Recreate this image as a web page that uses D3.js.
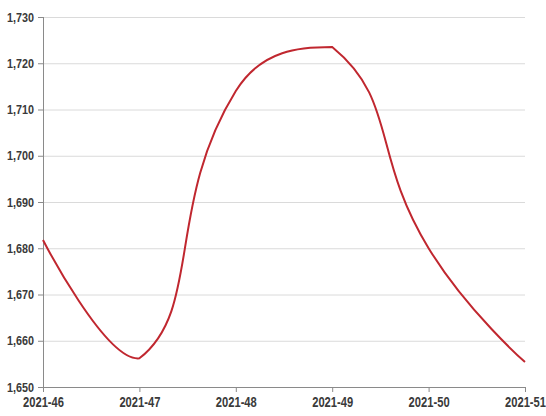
<!DOCTYPE html>
<html><head><meta charset="utf-8">
<script src="https://cdn.jsdelivr.net/npm/d3@7"></script>
<style>
body{margin:0;background:#fff}
svg{display:block}
.lbl text{font-family:"Liberation Sans",Arial,sans-serif;fill:#3a3a3a;font-weight:bold}
</style>
</head><body>
<svg id="c" width="546" height="416"></svg>
<script>
// ---- data ----
const categories = ["2021-46","2021-47","2021-48","2021-49","2021-50","2021-51"];
const values = [1681.8, 1656.2, 1714.0, 1723.5, 1680.0, 1655.4];
const yTicks = [1650,1660,1670,1680,1690,1700,1710,1720,1730];
const yDomain = [1650, 1730];

// ---- layout ----
const plotL = 43, plotR = 525, plotT = 17, plotB = 387;
const svg = d3.select("#c");
const x = d3.scalePoint().domain(categories).range([plotL, plotR]);
const y = d3.scaleLinear().domain(yDomain).range([plotB, plotT]);

// ECharts-like smooth curve (control points clamped to the data bounding box)
function EchartsSmooth(context){ this._context = context; }
EchartsSmooth.prototype = {
  areaStart(){}, areaEnd(){},
  lineStart(){ this._pts = []; },
  point(px, py){ this._pts.push([+px, +py]); },
  lineEnd(){
    const p = this._pts, c = this._context, n = p.length, s = 0.5;
    if (!n) return;
    const minX = d3.min(p, d => d[0]), maxX = d3.max(p, d => d[0]);
    const minY = d3.min(p, d => d[1]), maxY = d3.max(p, d => d[1]);
    const clamp = q => { q[0] = Math.max(minX, Math.min(maxX, q[0])); q[1] = Math.max(minY, Math.min(maxY, q[1])); return q; };
    c.moveTo(p[0][0], p[0][1]);
    let cp0 = p[0].slice();
    for (let i = 1; i < n; i++) {
      const pt = p[i], prev = p[i-1], next = p[i+1];
      let cp1, ratio = 0.5, v = [0, 0];
      if (!next) { cp1 = pt.slice(); }
      else {
        v = [next[0]-prev[0], next[1]-prev[1]];
        const l0 = Math.hypot(pt[0]-prev[0], pt[1]-prev[1]);
        const l1 = Math.hypot(next[0]-pt[0], next[1]-pt[1]);
        ratio = l1 / (l0 + l1);
        cp1 = [pt[0]-v[0]*s*(1-ratio), pt[1]-v[1]*s*(1-ratio)];
      }
      clamp(cp0); clamp(cp1);
      c.bezierCurveTo(cp0[0], cp0[1], cp1[0], cp1[1], pt[0], pt[1]);
      cp0 = [pt[0]+v[0]*s*ratio, pt[1]+v[1]*s*ratio];
    }
  }
};
const curveEcharts = ctx => new EchartsSmooth(ctx);

// gridlines
const grid = svg.append("g").attr("transform", `translate(${plotL},0)`)
  .call(d3.axisLeft(y).tickValues(yTicks.slice(1)).tickSize(-(plotR-plotL)).tickFormat(""));
grid.select(".domain").remove();
grid.selectAll("line").attr("stroke", "#dadada").attr("stroke-width", 1);

// y axis
const ya = svg.append("g").attr("class","lbl").attr("transform", `translate(${plotL},0)`)
  .call(d3.axisLeft(y).tickValues(yTicks).tickFormat(d3.format(",")).tickSize(5).tickPadding(4));
ya.select(".domain").attr("stroke", "#8a8a8a").attr("d", `M0.5,${plotT}V${plotB}`);
ya.selectAll(".tick line").attr("stroke", "#8a8a8a");
ya.selectAll("text").attr("font-size", 13)
  .attr("textLength", 27).attr("lengthAdjust", "spacingAndGlyphs");

// x axis
const xa = svg.append("g").attr("class","lbl").attr("transform", `translate(0,${plotB})`)
  .call(d3.axisBottom(x).tickSize(5).tickPadding(5));
xa.select(".domain").attr("stroke", "#8a8a8a").attr("d", `M${plotL},0.5H${plotR}`);
xa.selectAll(".tick line").attr("stroke", "#8a8a8a");
xa.selectAll("text").attr("font-size", 14)
  .attr("textLength", 41).attr("lengthAdjust", "spacingAndGlyphs");

// line
const line = d3.line()
  .x((d, i) => x(categories[i]))
  .y(d => y(d))
  .curve(curveEcharts);
svg.append("path").datum(values)
  .attr("d", line)
  .attr("fill", "none")
  .attr("stroke", "#c0272f")
  .attr("stroke-width", 2);
</script>
</body></html>
